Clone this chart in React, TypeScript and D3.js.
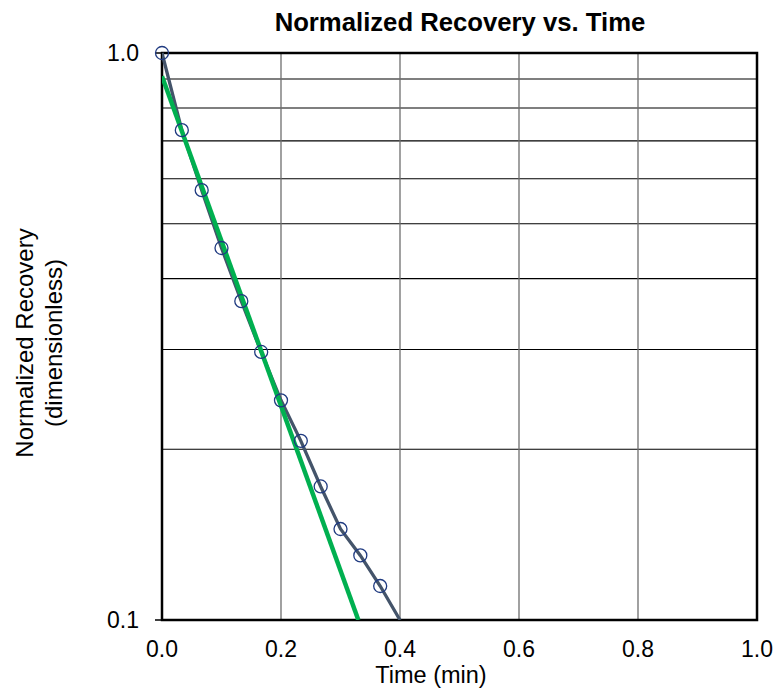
import React from "react";
import * as d3 from "d3";

const timeMin = [0, 0.0333, 0.0667, 0.1, 0.1333, 0.1667, 0.2, 0.2333, 0.2667, 0.3, 0.3333, 0.3667, 0.4];
const recovery = [1.0, 0.731, 0.573, 0.453, 0.365, 0.297, 0.244, 0.207, 0.172, 0.1447, 0.130, 0.1148, 0.1];
const fitTime = [0, 0.33];
const fitRecovery = [0.91, 0.1];
const xTicks = [0, 0.2, 0.4, 0.6, 0.8, 1.0];
const yGrid = [0.2, 0.3, 0.4, 0.5, 0.6, 0.7, 0.8, 0.9];
const yTickLabels = [0.1, 1.0];

const W = 776, H = 692;
const L = 162, R = 757, T = 53, B = 620;
const FONT = "'Liberation Sans', Arial, sans-serif";

export default function App() {
  const x = d3.scaleLinear().domain([0, 1]).range([L, R]);
  const y = d3.scaleLog().domain([0.1, 1]).range([B, T]);
  const pts = timeMin.map((t, i) => [t, recovery[i]] as [number, number]);
  const line = d3.line<[number, number]>().x(d => x(d[0])).y(d => y(d[1]));
  const fitPts = fitTime.map((t, i) => [t, fitRecovery[i]] as [number, number]);
  return (
    <svg width={W} height={H} style={{ position: "absolute", left: 0, top: 0 }} fontFamily={FONT}>
      <rect width={W} height={H} fill="#fff" />
      <defs>
        <clipPath id="pc"><rect x={L} y={T - 8} width={R - L} height={B - T + 8} /></clipPath>
      </defs>
      {yGrid.map(v => (
        <line key={v} x1={L} x2={R} y1={y(v)} y2={y(v)} stroke="#000" strokeWidth={1.1} />
      ))}
      {xTicks.slice(1, -1).map(v => (
        <line key={v} x1={x(v)} x2={x(v)} y1={T} y2={B} stroke="#6e6e6e" strokeWidth={1.3} />
      ))}
      <rect x={L} y={T} width={R - L} height={B - T} fill="none" stroke="#000" strokeWidth={2.5} />
      <line x1={L - 7} x2={L} y1={B} y2={B} stroke="#000" strokeWidth={1.5} />
      <line x1={L - 7} x2={L} y1={T} y2={T} stroke="#000" strokeWidth={1.5} />
      <g clipPath="url(#pc)">
        <path d={line(pts) || ""} fill="none" stroke="#44546a" strokeWidth={3.3} />
        <path d={line(fitPts) || ""} fill="none" stroke="#00b050" strokeWidth={4.5} />
      </g>
      {pts.filter(p => p[1] > 0.1).map((p, i) => (
        <circle key={i} cx={x(p[0])} cy={y(p[1])} r={6.5} fill="none" stroke="#1f3a80" strokeWidth={1.3} />
      ))}
      {yTickLabels.map(v => (
        <text key={v} x={139} y={y(v)} dy="0.36em" textAnchor="end" fontSize={23} fill="#000">{v.toFixed(1)}</text>
      ))}
      {xTicks.map(v => (
        <text key={v} x={x(v)} y={657} textAnchor="middle" fontSize={23} fill="#000">{v.toFixed(1)}</text>
      ))}
      <text x={431} y={683} textAnchor="middle" fontSize={23.5} fill="#000">Time (min)</text>
      <text x={460} y={31} textAnchor="middle" fontSize={25.7} fontWeight="bold" fill="#000">Normalized Recovery vs. Time</text>
      <g transform={`translate(33, 343) rotate(-90)`}>
        <text x={0} y={0} textAnchor="middle" fontSize={24} fill="#000">Normalized Recovery</text>
        <text x={0} y={29} textAnchor="middle" fontSize={24} fill="#000">(dimensionless)</text>
      </g>
    </svg>
  );
}
